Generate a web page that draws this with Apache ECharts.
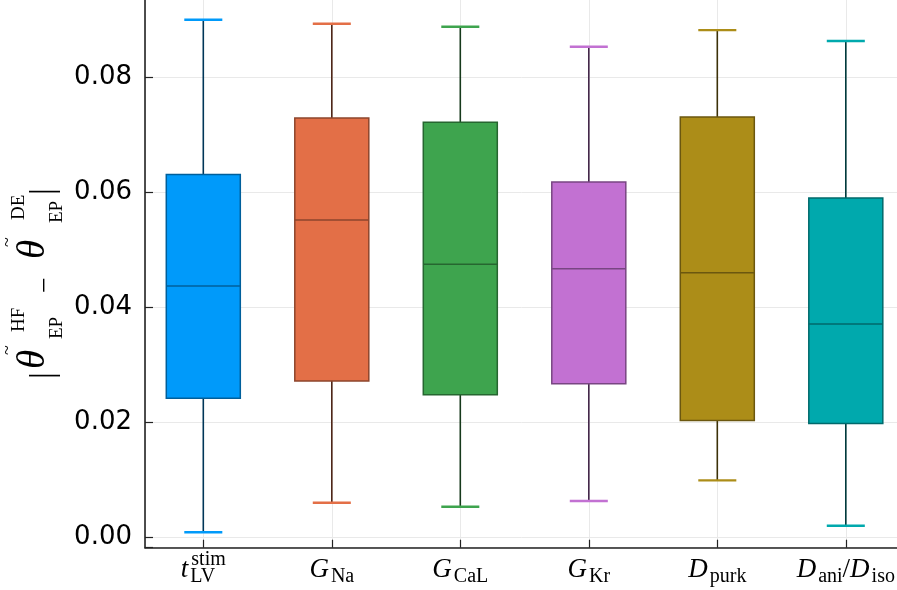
<!DOCTYPE html>
<html>
<head>
<meta charset="utf-8">
<script src="https://cdn.jsdelivr.net/npm/echarts@6/dist/echarts.min.js"></script>
<style>
html,body{margin:0;padding:0;background:#fff;}
#chart{width:897px;height:590px;}
</style>
</head>
<body>
<div id="chart"></div>
<script>
// ---- data ----
const categories = ['t_LV^stim', 'G_Na', 'G_CaL', 'G_Kr', 'D_purk', 'D_ani/D_iso'];
const whiskerLow  = [0.00087, 0.0060, 0.0053, 0.0063, 0.0099, 0.0020];
const quartile1   = [0.0242, 0.0272, 0.0248, 0.0267, 0.0203, 0.0198];
const medians     = [0.0437, 0.0552, 0.0475, 0.0467, 0.0460, 0.0371];
const quartile3   = [0.0631, 0.0729, 0.0722, 0.0618, 0.0731, 0.0590];
const whiskerHigh = [0.0900, 0.0893, 0.0888, 0.0853, 0.0882, 0.0863];
const yTickStep = 0.02;

// ---- styles ----
const colors = ['#009AFA', '#E36F47', '#3EA44E', '#C271D2', '#AC8D18', '#00A9AD'];
function shade(hex, f) {
  const n = parseInt(hex.slice(1), 16);
  const r = Math.round(((n >> 16) & 255) * f), g = Math.round(((n >> 8) & 255) * f), b = Math.round((n & 255) * f);
  return 'rgb(' + r + ',' + g + ',' + b + ')';
}
const SERIF = 'Liberation Serif';

const mctx = document.createElement('canvas').getContext('2d');
function textW(txt, font) { mctx.font = font; return mctx.measureText(txt).width; }

const xRich = {
  m: {fontFamily: SERIF, fontStyle: 'italic', fontSize: 27, color: '#000', height: 12, lineHeight: 26, verticalAlign: 'top', align: 'left', padding: [0, 2, 0, 0]},
  o: {fontFamily: SERIF, fontSize: 27, color: '#000', height: 12, lineHeight: 26, verticalAlign: 'top', align: 'left'},
  s: {fontFamily: SERIF, fontSize: 20, color: '#000', height: 26, lineHeight: 26, verticalAlign: 'top', align: 'left'},
  u: {fontFamily: SERIF, fontSize: 20, color: '#000', height: 8, lineHeight: 8, verticalAlign: 'top', align: 'left'},
  e: {fontFamily: SERIF, fontSize: 8, color: '#000', height: 8, lineHeight: 8, verticalAlign: 'top', align: 'left'}
};
const labelMap = {};
categories.forEach(function (name, i) {
  let l1 = '', l2 = '';
  name.split('/').forEach(function (part, k) {
    const mt = part.match(/^([^_^]+)(?:_([^_^]+))?(?:\^(.+))?$/);
    if (k > 0) { l2 += '{o|/}'; }
    l2 += '{m|' + mt[1] + '}';
    if (mt[2]) l2 += '{s|' + mt[2] + '}';
    if (mt[3]) {
      const key = 'sp' + i;
      xRich[key] = {width: textW(mt[1], 'italic 27px ' + SERIF) + 3, height: 8, lineHeight: 8, verticalAlign: 'top', align: 'left', fontSize: 8};
      l1 += '{' + key + '|\u00a0}{u|' + mt[3] + '}';
    }
  });
  if (!l1) l1 = '{e|\u00a0}';
  labelMap[i + 1] = l1 + '\n' + l2;
});

const yRich = {
  a:  {fontFamily: SERIF, fontSize: 10, width: 24, height: 10, lineHeight: 20, verticalAlign: 'top', align: 'left'},
  tl: {fontFamily: SERIF, fontSize: 18, color: '#000', width: 23, height: 10, lineHeight: 20, verticalAlign: 'top', align: 'left'},
  tl2:{fontFamily: SERIF, fontSize: 18, color: '#000', width: 27, height: 10, lineHeight: 20, verticalAlign: 'top', align: 'left'},
  hf: {fontFamily: SERIF, fontSize: 19, color: '#000', width: 85, height: 33, lineHeight: 20, verticalAlign: 'top', align: 'left'},
  de: {fontFamily: SERIF, fontSize: 19, color: '#000', width: 35, height: 33, lineHeight: 20, verticalAlign: 'top', align: 'left'},
  b:  {fontFamily: SERIF, fontSize: 34, color: '#000', width: 10, height: 42, lineHeight: 30, verticalAlign: 'top', align: 'left'},
  th: {fontFamily: SERIF, fontStyle: 'italic', fontSize: 39, color: '#000', width: 30, height: 21, lineHeight: 30, verticalAlign: 'top', align: 'left'},
  th2:{fontFamily: SERIF, fontStyle: 'italic', fontSize: 39, color: '#000', width: 36, height: 21, lineHeight: 30, verticalAlign: 'top', align: 'left'},
  s1: {fontFamily: SERIF, fontSize: 19, color: '#000', width: 46, height: 69, lineHeight: 30, verticalAlign: 'top', align: 'left'},
  s2: {fontFamily: SERIF, fontSize: 19, color: '#000', width: 28, height: 69, lineHeight: 30, verticalAlign: 'top', align: 'left'},
  mi: {fontFamily: SERIF, fontSize: 28, color: '#000', width: 34, height: 45, lineHeight: 30, verticalAlign: 'top', align: 'left'}
};
const yTitle = '{a|\u00a0}{tl|~}{hf|HF}{tl2|~}{de|DE}\n{b||}{th|θ}{s1|EP}{mi|−}{th2|θ}{s2|EP}{b||}';

const boxData = categories.map(function (c, i) {
  return [i + 1, whiskerLow[i], quartile1[i], medians[i], quartile3[i], whiskerHigh[i]];
});

const chart = echarts.init(document.getElementById('chart'), null, {renderer: 'canvas'});
chart.setOption({
  animation: false,
  backgroundColor: '#fff',
  grid: {left: 145, top: -37.7, width: 829.3, height: 585.4, containLabel: false, outerBoundsMode: 'none'},
  xAxis: {
    type: 'value', min: 0.5463, max: 7, minInterval: 1, maxInterval: 1,
    axisLine: {show: true, onZero: false, lineStyle: {color: '#222', width: 1.6}},
    axisTick: {show: true, inside: true, length: 8, lineStyle: {color: '#222', width: 1.2}},
    splitLine: {show: true, lineStyle: {color: '#e9e9e9', width: 1}},
    axisLabel: {
      margin: 8, showMinLabel: false,
      formatter: function (v) { return labelMap[Math.round(v)] && Math.abs(v - Math.round(v)) < 1e-6 ? labelMap[Math.round(v)] : ''; },
      rich: xRich
    }
  },
  yAxis: {
    type: 'value', min: -0.00181, max: 0.1, minInterval: yTickStep, maxInterval: yTickStep,
    axisLine: {show: true, onZero: false, lineStyle: {color: '#222', width: 1.6}},
    axisTick: {show: true, inside: true, length: 8, lineStyle: {color: '#222', width: 1.2}},
    splitLine: {show: true, lineStyle: {color: '#e9e9e9', width: 1}},
    axisLabel: {
      margin: 13, fontFamily: 'DejaVu Sans', fontSize: 26, color: '#000',
      formatter: function (v) {
        const k = v / yTickStep;
        return (Math.abs(k - Math.round(k)) < 1e-6 && v > -1e-9) ? Math.abs(v).toFixed(2) : '';
      }
    },
    name: yTitle,
    nameLocation: 'middle',
    nameRotate: 90,
    nameGap: 92,
    nameMoveOverlap: false,
    nameTextStyle: {rich: yRich, padding: [0, 54, 0, 0]}
  },
  series: [{
    type: 'custom',
    data: boxData,
    encode: {x: 0, y: [1, 2, 3, 4, 5]},
    renderItem: function (params, api) {
      const x = api.value(0);
      const pMin = api.coord([x, api.value(1)]);
      const pQ1 = api.coord([x, api.value(2)]);
      const pMed = api.coord([x, api.value(3)]);
      const pQ3 = api.coord([x, api.value(4)]);
      const pMax = api.coord([x, api.value(5)]);
      const unit = api.size([1, 0])[0];
      const half = unit * 0.288, cap = unit * 0.148;
      const cx = pMed[0];
      const col = colors[params.dataIndex];
      const dark = shade(col, 0.35), mid = shade(col, 0.62);
      return {
        type: 'group',
        children: [
          {type: 'line', shape: {x1: cx, y1: pQ3[1], x2: cx, y2: pMax[1]}, style: {stroke: dark, lineWidth: 1.6}},
          {type: 'line', shape: {x1: cx, y1: pQ1[1], x2: cx, y2: pMin[1]}, style: {stroke: dark, lineWidth: 1.6}},
          {type: 'line', shape: {x1: cx - cap, y1: pMax[1], x2: cx + cap, y2: pMax[1]}, style: {stroke: col, lineWidth: 2.4}},
          {type: 'line', shape: {x1: cx - cap, y1: pMin[1], x2: cx + cap, y2: pMin[1]}, style: {stroke: col, lineWidth: 2.4}},
          {type: 'rect', shape: {x: cx - half, y: pQ3[1], width: 2 * half, height: pQ1[1] - pQ3[1]}, style: {fill: col, stroke: mid, lineWidth: 1.5}},
          {type: 'line', shape: {x1: cx - half, y1: pMed[1], x2: cx + half, y2: pMed[1]}, style: {stroke: mid, lineWidth: 1.5}}
        ]
      };
    }
  }]
});
</script>
</body>
</html>
